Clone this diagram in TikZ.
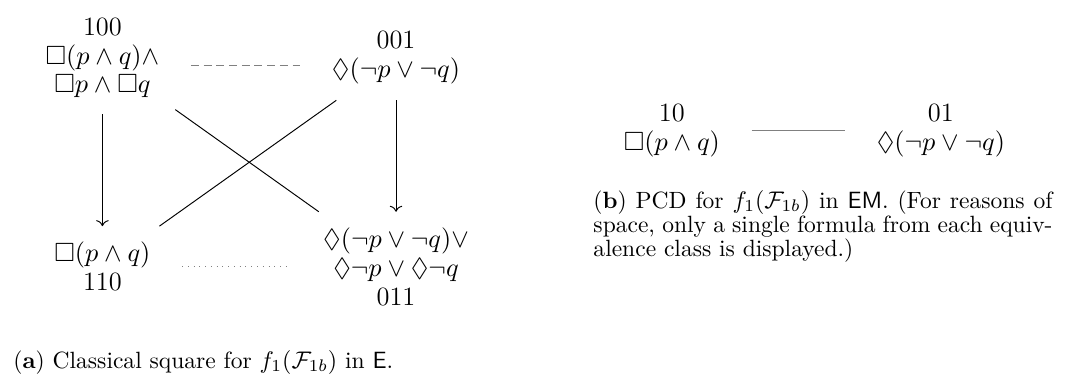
\documentclass[tikz,border=0pt]{standalone}
\usepackage{amsmath,amssymb}
\usepackage{tikz}
\usetikzlibrary{arrows.meta}

\begin{document}
\begin{tikzpicture}[
    vnode/.style={align=center, inner sep=6.5pt, font=\fontsize{11}{12}\selectfont},
    arr/.style={-{To}},
    link/.style={draw=gray, shorten <=6.5pt, shorten >=6.5pt},
    captext/.style={inner sep=0pt, anchor=base west, font=\fontsize{9.8}{10.2}\selectfont}
]
\useasboundingbox (0,0) rectangle (15.70,5.507);

% (a) classical square
\node[vnode] (c100) at (1.50,4.66) {100\\$\Box(p\wedge q)\wedge$\\$\Box p\wedge\Box q$};
\node[vnode] (c001) at (5.80,4.66) {001\\$\Diamond(\neg p\vee\neg q)$};
\node[vnode] (c110) at (1.50,1.60) {$\Box(p\wedge q)$\\110};
\node[vnode] (c011) at (5.80,1.60) {$\Diamond(\neg p\vee\neg q)\vee$\\$\Diamond\neg p\vee\Diamond\neg q$\\011};

\draw[link, dash pattern=on 3.3pt off 2pt] ([yshift=-3pt]c100.east) -- ([yshift=-3pt]c001.west);
\draw[link, dotted] (c110) -- (c011);
\draw[arr] (c100) -- (c110);
\draw[arr] (c001) -- (c011);
\draw (c100) -- (c011);
\draw (c001) -- (c110);

\node[captext] (capa) at (0.19,0.117) {(\textbf{a}) Classical square for $f_1(\mathcal{F}_{1b})$ in \textsf{E}.};

% (b) PCD
\node[vnode] (d10) at (9.84,3.59) {10\\$\Box(p\wedge q)$};
\node[vnode] (d01) at (13.78,3.59) {01\\$\Diamond(\neg p\vee\neg q)$};
\draw[link] (d10) -- (d01);

\node[captext, text width=191.3pt, align=justify] (capb) at (8.685,2.46)
  {(\textbf{b}) PCD for $f_1(\mathcal{F}_{1b})$ in \textsf{EM}. (For reasons of space, only a single formula from each equiv-\linebreak alence class is displayed.)};

\end{tikzpicture}
\end{document}
